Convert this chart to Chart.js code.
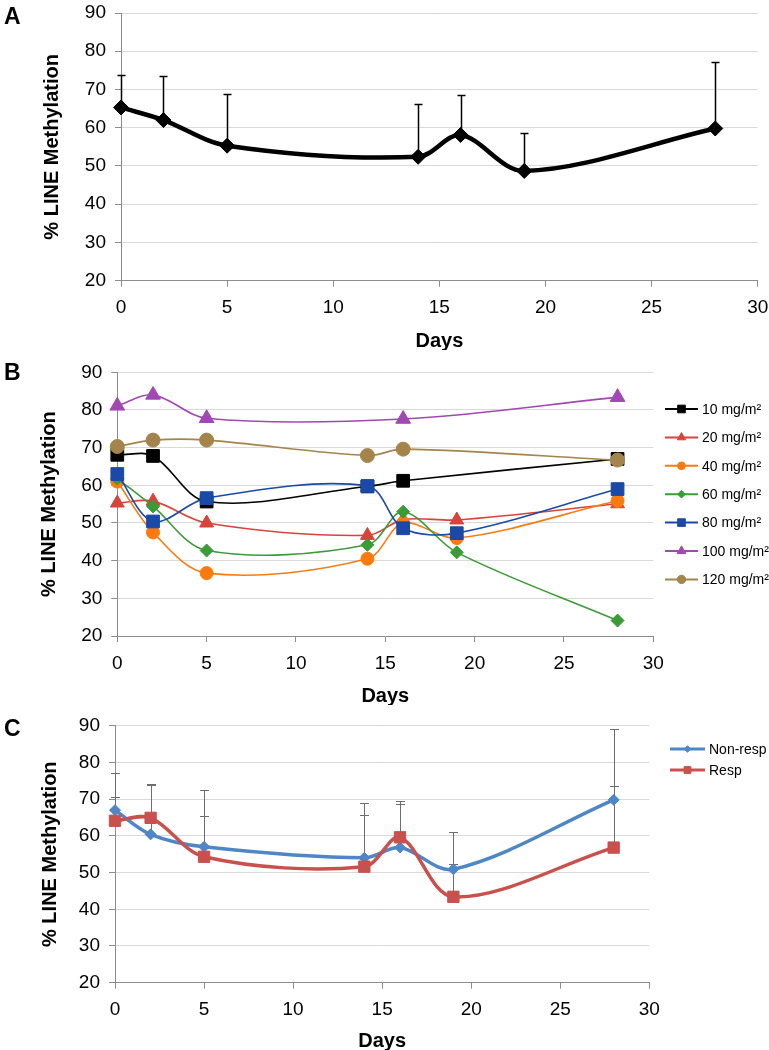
<!DOCTYPE html>
<html>
<head>
<meta charset="utf-8">
<script src="https://cdn.jsdelivr.net/npm/chart.js@4.4.1/dist/chart.umd.min.js"></script>
<style>
  body { margin: 0; background: #fff; width: 769px; height: 1050px; position: relative; overflow: hidden; }
  .panel { position: absolute; left: 0; }
  .letter { position: absolute; left: 4px; font: bold 23px "Liberation Sans", Arial, sans-serif; line-height: 1; }
</style>
</head>
<body>
<canvas id="chartA" class="panel" width="769" height="350" style="top:0"></canvas>
<canvas id="chartB" class="panel" width="769" height="355" style="top:350px"></canvas>
<canvas id="chartC" class="panel" width="769" height="345" style="top:705px"></canvas>
<div class="letter" style="top:5px">A</div>
<div class="letter" style="top:361px">B</div>
<div class="letter" style="top:717px">C</div>
<script>
// sampling days (shared by all panels)
var days = [0, 2, 5, 14, 16, 19, 28];

// panel A: mean and top of error bar
var meanA = [65.3, 62.0, 55.3, 52.4, 58.1, 48.7, 59.8];
var topA = [73.7, 73.6, 68.7, 66.2, 68.5, 58.5, 77.1];

// panel B: one series per dose (null = not measured)
var doseLabels = ['10 mg/m²', '20 mg/m²', '40 mg/m²', '60 mg/m²', '80 mg/m²', '100 mg/m²', '120 mg/m²'];
var dose10 = [68.1, 67.8, 55.7, 59.7, 61.2, null, 67.0];
var dose20 = [55.3, 55.8, 50.0, 46.7, 50.9, 50.8, 55.1];
var dose40 = [61.0, 47.5, 36.7, 40.5, 50.0, 46.0, 55.9];
var dose60 = [61.8, 54.4, 42.7, 44.2, 53.0, 42.2, 24.1];
var dose80 = [63.0, 50.4, 56.6, 59.8, 48.6, 47.3, 59.0];
var dose100 = [81.1, 84.0, 77.8, null, 77.6, null, 83.4];
var dose120 = [70.3, 72.0, 72.0, 67.9, 69.6, null, 66.7];

// panel C: responders vs non-responders
var nonResp = [67.0, 60.4, 57.0, 54.0, 56.8, 50.9, 69.8];
var resp = [64.1, 64.9, 54.3, 51.6, 59.6, 43.4, 56.8];
var nonRespTop = [77.1, 73.8, 72.5, 68.9, 68.7, 61.0, 89.1];
var respTop = [70.7, 74.0, 65.5, 65.7, 69.5, 52.3, 73.5];

var yTicks = { min: 20, max: 90, step: 10 };
var xTicks = { min: 0, max: 30, step: 5 };

Chart.defaults.font.family = '"Liberation Sans", Arial, sans-serif';
Chart.defaults.color = '#000';

function pts(vals) {
  var out = [];
  for (var i = 0; i < days.length; i++) {
    out.push({ x: days[i], y: vals[i] });
  }
  return out;
}

// upper error bars with caps
var errorBars = {
  id: 'errorBars',
  beforeDatasetsDraw: function(chart, args, o) {
    var ctx = chart.ctx, xs = chart.scales.x, ys = chart.scales.y;
    ctx.save();
    ctx.strokeStyle = o.color;
    ctx.lineWidth = o.width;
    chart.data.datasets.forEach(function(ds) {
      if (!ds.errTop) return;
      ds.data.forEach(function(p, i) {
        if (p.y == null || ds.errTop[i] == null) return;
        var x = Math.round(xs.getPixelForValue(p.x)) + 0.5;
        var y0 = ys.getPixelForValue(p.y);
        var y1 = Math.round(ys.getPixelForValue(ds.errTop[i])) + 0.5;
        ctx.beginPath();
        ctx.moveTo(x, y0);
        ctx.lineTo(x, y1);
        ctx.moveTo(x - o.cap, y1);
        ctx.lineTo(x + o.cap, y1);
        ctx.stroke();
      });
    });
    ctx.restore();
  }
};

// legend drawn as line + marker like the original
var sideLegend = {
  id: 'sideLegend',
  afterDraw: function(chart, args, o) {
    if (!o.x) return;
    var ctx = chart.ctx;
    chart.data.datasets.forEach(function(ds, i) {
      var y = o.y + i * o.gap;
      ctx.save();
      ctx.strokeStyle = ds.borderColor;
      ctx.lineWidth = o.lineWidth;
      ctx.beginPath();
      ctx.moveTo(o.x, y);
      ctx.lineTo(o.x + o.len, y);
      ctx.stroke();
      ctx.fillStyle = ds.pointBackgroundColor;
      ctx.lineWidth = 1;
      Chart.helpers.drawPoint(ctx, {
        pointStyle: ds.pointStyle, rotation: 0, borderWidth: 1,
        radius: ds.pointRadius * o.scale
      }, o.x + o.len / 2, y);
      ctx.fillStyle = '#000';
      ctx.font = '14px "Liberation Sans", Arial, sans-serif';
      ctx.textBaseline = 'middle';
      ctx.fillText(ds.label, o.x + o.len + 4, y + 1);
      ctx.restore();
    });
  }
};

function makeOptions(p) {
  return {
    responsive: false,
    animation: false,
    layout: { padding: { top: p.top, right: p.right, left: 0, bottom: 0 } },
    plugins: {
      legend: { display: false },
      tooltip: { enabled: false },
      errorBars: p.err || {},
      sideLegend: p.legend || {}
    },
    scales: {
      x: {
        type: 'linear', min: xTicks.min, max: xTicks.max,
        ticks: { stepSize: xTicks.step, padding: 10, font: { size: 19 } },
        grid: { drawOnChartArea: false, color: '#8c8c8c', tickLength: 6 },
        border: { color: '#8c8c8c' },
        title: { display: true, text: 'Days', font: { size: 20, weight: 'bold' }, padding: { top: 0, bottom: -3 } },
        afterFit: function(s) { s.height = p.xH; s.paddingLeft = 0; s.paddingRight = 0; }
      },
      y: {
        min: yTicks.min, max: yTicks.max,
        ticks: { stepSize: yTicks.step, padding: 9, font: { size: 19 } },
        grid: { color: '#d9d9d9', tickColor: '#8c8c8c', tickLength: 6 },
        border: { color: '#8c8c8c' },
        title: { display: true, text: '% LINE Methylation', font: { size: 20, weight: 'bold' }, padding: { top: p.titleX, bottom: 0 } },
        afterFit: function(s) { s.width = p.yW; s.paddingTop = 0; s.paddingBottom = 0; }
      }
    }
  };
}

function lineSet(label, vals, color, style, r, lw, order) {
  return {
    label: label, data: pts(vals),
    borderColor: color, backgroundColor: color,
    pointBackgroundColor: color, pointBorderColor: color,
    pointStyle: style, pointRadius: r, pointBorderWidth: 1,
    borderWidth: lw, tension: 0.33, spanGaps: true, order: order,
    clip: false
  };
}

// panel A
var setA = lineSet('Mean', meanA, '#000000', 'rectRot', 7.5, 4.5, 1);
setA.errTop = topA;
new Chart(document.getElementById('chartA'), {
  type: 'line',
  data: { datasets: [setA] },
  options: makeOptions({ top: 13, right: 11.3, xH: 69.3, yW: 121, titleX: 40,
    err: { color: '#000', width: 1.5, cap: 4 } }),
  plugins: [errorBars, sideLegend]
});

// panel B
var colorsB = ['#000000', '#d8433b', '#f97b10', '#3a9b37', '#1a49a8', '#a148b3', '#a5844b'];
var stylesB = ['rect', 'triangle', 'circle', 'rectRot', 'rect', 'triangle', 'circle'];
var radiiB = [9, 8, 6.5, 6.5, 9, 8.5, 7];
var valsB = [dose10, dose20, dose40, dose60, dose80, dose100, dose120];
var setsB = valsB.map(function(v, i) {
  return lineSet(doseLabels[i], v, colorsB[i], stylesB[i], radiiB[i], 1.6, 7 - i);
});
new Chart(document.getElementById('chartB'), {
  type: 'line',
  data: { datasets: setsB },
  options: makeOptions({ top: 22.3, right: 115.7, xH: 69, yW: 117.3, titleX: 37,
    legend: { x: 665, y: 59, gap: 28.4, len: 33, lineWidth: 2, scale: 0.6 } }),
  plugins: [errorBars, sideLegend]
});

// panel C
var setNon = lineSet('Non-resp', nonResp, '#4f86c6', 'rectRot', 5.5, 3.5, 2);
setNon.errTop = nonRespTop;
var setResp = lineSet('Resp', resp, '#c9504c', 'rect', 8, 3.5, 1);
setResp.errTop = respTop;
new Chart(document.getElementById('chartC'), {
  type: 'line',
  data: { datasets: [setNon, setResp] },
  options: makeOptions({ top: 20.7, right: 119.7, xH: 67.3, yW: 115, titleX: 38,
    err: { color: '#6e6e6e', width: 1, cap: 4.5 },
    legend: { x: 670, y: 44, gap: 21, len: 35, lineWidth: 3, scale: 0.6 } }),
  plugins: [errorBars, sideLegend]
});
</script>
</body>
</html>
